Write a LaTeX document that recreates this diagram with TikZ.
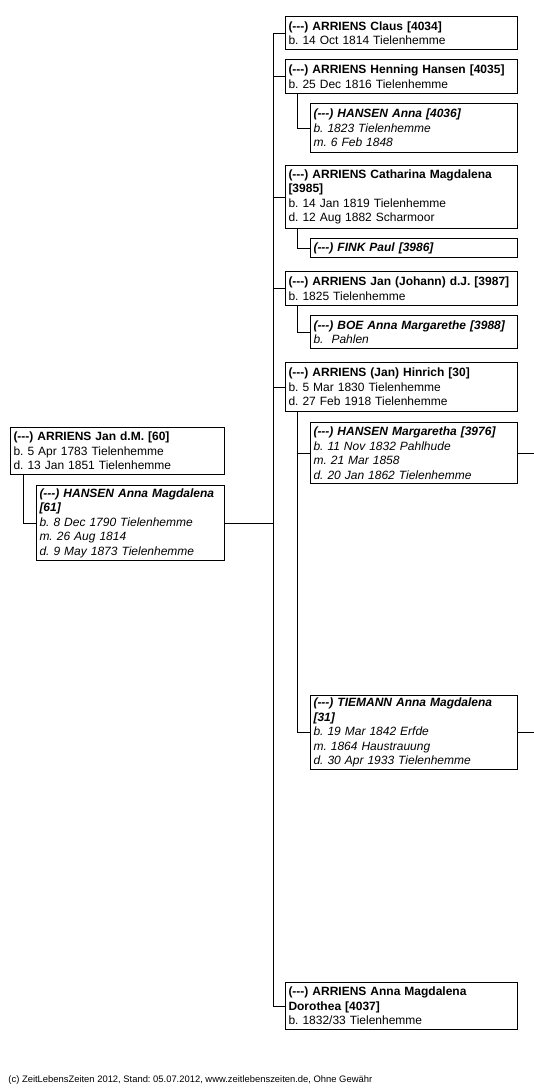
\documentclass[tikz,border=0pt]{standalone}
\usepackage{fontspec}
\setmainfont{Liberation Sans}
\frenchspacing
\newcommand\dsh{(-{}-{}-)}
\begin{document}
\begin{tikzpicture}[x=1pt,y=-1pt,line width=1pt,
  box/.style={draw, rectangle, anchor=north west, align=left, inner xsep=3pt, inner ysep=1pt,
    font=\fontsize{12}{14.5}\selectfont},
  main/.style={box, text width=226pt},
  sub/.style={box, text width=201pt, font=\fontsize{12}{14.5}\selectfont\itshape}]
\useasboundingbox (0,0) rectangle (534,1092);
% root couple
\node[box, text width=208pt, minimum height=47pt] (jan60) at (10,427)
  {\textbf{\dsh{} ARRIENS Jan d.M. [60]}\\b. 5 Apr 1783 Tielenhemme\\d. 13 Jan 1851 Tielenhemme};
\node[box, text width=182pt, minimum height=75pt, font=\fontsize{12}{14.5}\selectfont\itshape] (anna61) at (36,485)
  {\textbf{\dsh{} HANSEN Anna Magdalena}\\\textbf{[61]}\\b. 8 Dec 1790 Tielenhemme\\m. 26 Aug 1814\\d. 9 May 1873 Tielenhemme};
% children
\node[main, minimum height=33pt] (claus) at (285,16)
  {\textbf{\dsh{} ARRIENS Claus [4034]}\\b. 14 Oct 1814 Tielenhemme};
\node[main, minimum height=34pt] (henning) at (285,59)
  {\textbf{\dsh{} ARRIENS Henning Hansen [4035]}\\b. 25 Dec 1816 Tielenhemme};
\node[sub, minimum height=49pt] (anna4036) at (310,103)
  {\textbf{\dsh{} HANSEN Anna [4036]}\\b. 1823 Tielenhemme\\m. 6 Feb 1848};
\node[main, minimum height=63pt] (catharina) at (285,165)
  {\textbf{\dsh{} ARRIENS Catharina Magdalena}\\\textbf{[3985]}\\b. 14 Jan 1819 Tielenhemme\\d. 12 Aug 1882 Scharmoor};
\node[sub, minimum height=19pt] (paul) at (310,238)
  {\textbf{\dsh{} FINK Paul [3986]}};
\node[main, minimum height=34pt] (johann) at (285,271)
  {\textbf{\dsh{} ARRIENS Jan (Johann) d.J. [3987]}\\b. 1825 Tielenhemme};
\node[sub, minimum height=33pt] (boe) at (310,315)
  {\textbf{\dsh{} BOE Anna Margarethe [3988]}\\b.\ \ Pahlen};
\node[main, minimum height=49pt] (hinrich) at (285,362)
  {\textbf{\dsh{} ARRIENS (Jan) Hinrich [30]}\\b. 5 Mar 1830 Tielenhemme\\d. 27 Feb 1918 Tielenhemme};
\node[sub, minimum height=61pt] (margaretha) at (310,422)
  {\textbf{\dsh{} HANSEN Margaretha [3976]}\\b. 11 Nov 1832 Pahlhude\\m. 21 Mar 1858\\d. 20 Jan 1862 Tielenhemme};
\node[sub, minimum height=74pt] (tiemann) at (310,695)
  {\textbf{\dsh{} TIEMANN Anna Magdalena}\\\textbf{[31]}\\b. 19 Mar 1842 Erfde\\m. 1864 Haustrauung\\d. 30 Apr 1933 Tielenhemme};
\node[main, minimum height=47pt] (dorothea) at (285,982)
  {\textbf{\dsh{} ARRIENS Anna Magdalena}\\\textbf{Dorothea [4037]}\\b. 1832/33 Tielenhemme};
% footer
\node[anchor=west, inner sep=0pt, font=\fontsize{9.4}{11}\selectfont] (footer) at (8,1080)
  {(c) ZeitLebensZeiten 2012, Stand: 05.07.2012, www.zeitlebenszeiten.de, Ohne Gewähr};
% connectors
\coordinate (trunk) at (273,0);
\coordinate (edge) at (534,0);
\draw ([xshift=13pt]jan60.south west) |- (anna61.west);
\draw (anna61.east) -- (anna61.east -| trunk);
\draw (claus.west) -| (trunk |- dorothea.west) -- (dorothea.west);
\draw (henning.west) -- (henning.west -| trunk);
\draw (catharina.west) -- (catharina.west -| trunk);
\draw (johann.west) -- (johann.west -| trunk);
\draw (hinrich.west) -- (hinrich.west -| trunk);
\draw ([xshift=12pt]henning.south west) |- (anna4036.west);
\draw ([xshift=12pt]catharina.south west) |- (paul.west);
\draw ([xshift=12pt]johann.south west) |- (boe.west);
\coordinate (hinrichdrop) at ([xshift=12pt]hinrich.south west);
\draw (hinrichdrop) |- (tiemann.west);
\draw (margaretha.west) -- (margaretha.west -| hinrichdrop);
\draw (margaretha.east) -- (margaretha.east -| edge);
\draw (tiemann.east) -- (tiemann.east -| edge);
\end{tikzpicture}
\end{document}
